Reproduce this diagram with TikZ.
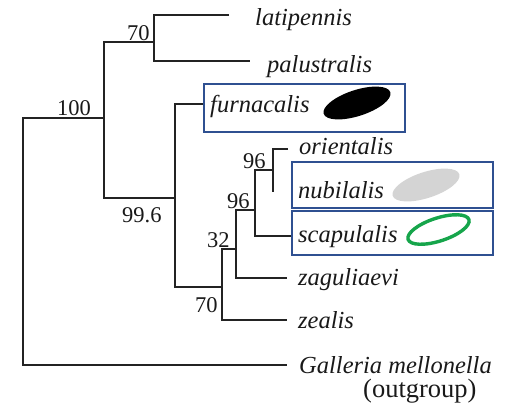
\documentclass[tikz,border=0pt]{standalone}
\usepackage{fontspec}
\setmainfont{Liberation Serif}
\definecolor{boxblue}{RGB}{47,80,145}
\definecolor{ovalgreen}{RGB}{22,165,75}
\definecolor{ovalgrey}{RGB}{212,212,212}
\definecolor{treeline}{RGB}{35,35,35}
\begin{document}
\begin{tikzpicture}[x=1pt,y=-1pt,
  branch/.style={draw=treeline,line width=1.5pt},
  taxon/.style={anchor=base west,inner sep=0pt,font=\fontsize{24.5}{28}\selectfont\itshape,text=black!90},
  support/.style={anchor=base west,inner sep=0pt,font=\fontsize{22.5}{26}\selectfont,text=black!90},
  hbox/.style={draw=boxblue,line width=1.8pt,inner sep=0pt,anchor=north west}]
\useasboundingbox (0,0) rectangle (510,413);
% boxes
\node[hbox,minimum width=201pt,minimum height=48pt] (bfur) at (203,83) {};
\node[hbox,minimum width=201pt,minimum height=46pt] (bnub) at (291,161) {};
\node[hbox,minimum width=201pt,minimum height=44pt] (bsca) at (291,210) {};
% internal nodes
\coordinate (root) at (23,241);
\coordinate (n100) at (104,118);
\coordinate (n70a) at (154,42);
\coordinate (n996) at (175,198);
\coordinate (n70b) at (222,287);
\coordinate (n32) at (236,249);
\coordinate (n96a) at (255,210);
\coordinate (n96b) at (273,170);
% leaf ends
\coordinate (lat) at (229,15);
\coordinate (pal) at (250,61);
\coordinate (fur) at (203,104);
\coordinate (ori) at (288,149);
\coordinate (nub) at (273,192);
\coordinate (sca) at (291,236);
\coordinate (zag) at (287,278);
\coordinate (zea) at (287,320);
\coordinate (gal) at (287,365);
% branches
\draw[branch] (n100) -| (root) |- (gal);
\draw[branch] (n70a) -| (n100) |- (n996);
\draw[branch] (lat) -| (n70a) |- (pal);
\draw[branch] (fur) -| (n996) |- (n70b);
\draw[branch] (n32) -| (n70b) |- (zea);
\draw[branch] (n96a) -| (n32) |- (zag);
\draw[branch] (n96b) -| (n96a) |- (sca);
\draw[branch] (ori) -| (n96b) |- (nub);
% taxa
\node[taxon] (tlat) at (255,25) {latipennis};
\node[taxon] (tpal) at (267,72) {palustralis};
\node[taxon] (tfur) at (210,112) {furnacalis};
\node[taxon] (tori) at (299,154) {orientalis};
\node[taxon] (tnub) at (298,198) {nubilalis};
\node[taxon] (tsca) at (298,242) {scapulalis};
\node[taxon] (tzag) at (298,285) {zaguliaevi};
\node[taxon] (tzea) at (298,328) {zealis};
\node[taxon] (tgal) at (299,373) {Galleria mellonella};
\node[anchor=base west,inner sep=0pt,font=\fontsize{26.5}{30}\selectfont,text=black!90] (tout) at (363,397) {(outgroup)};
% support values
\node[support] (s70a) at (127,40) {70};
\node[support] (s100) at (57,115) {100};
\node[support] (s996) at (122,222) {99.6};
\node[support] (s96b) at (243,168) {96};
\node[support] (s96a) at (227,208) {96};
\node[support] (s32) at (207,247) {32};
\node[support] (s70b) at (195,312) {70};
% wing spots
\coordinate (efur) at (357,103);
\coordinate (enub) at (426,185);
\coordinate (esca) at (438.5,229.5);
\fill[black,rotate around={18:(efur)}] (efur) ellipse [x radius=35, y radius=13];
\fill[ovalgrey,rotate around={18:(enub)}] (enub) ellipse [x radius=35, y radius=13];
\draw[ovalgreen,line width=3.4pt,rotate around={18:(esca)}] (esca) ellipse [x radius=32, y radius=11.5];
\end{tikzpicture}
\end{document}
